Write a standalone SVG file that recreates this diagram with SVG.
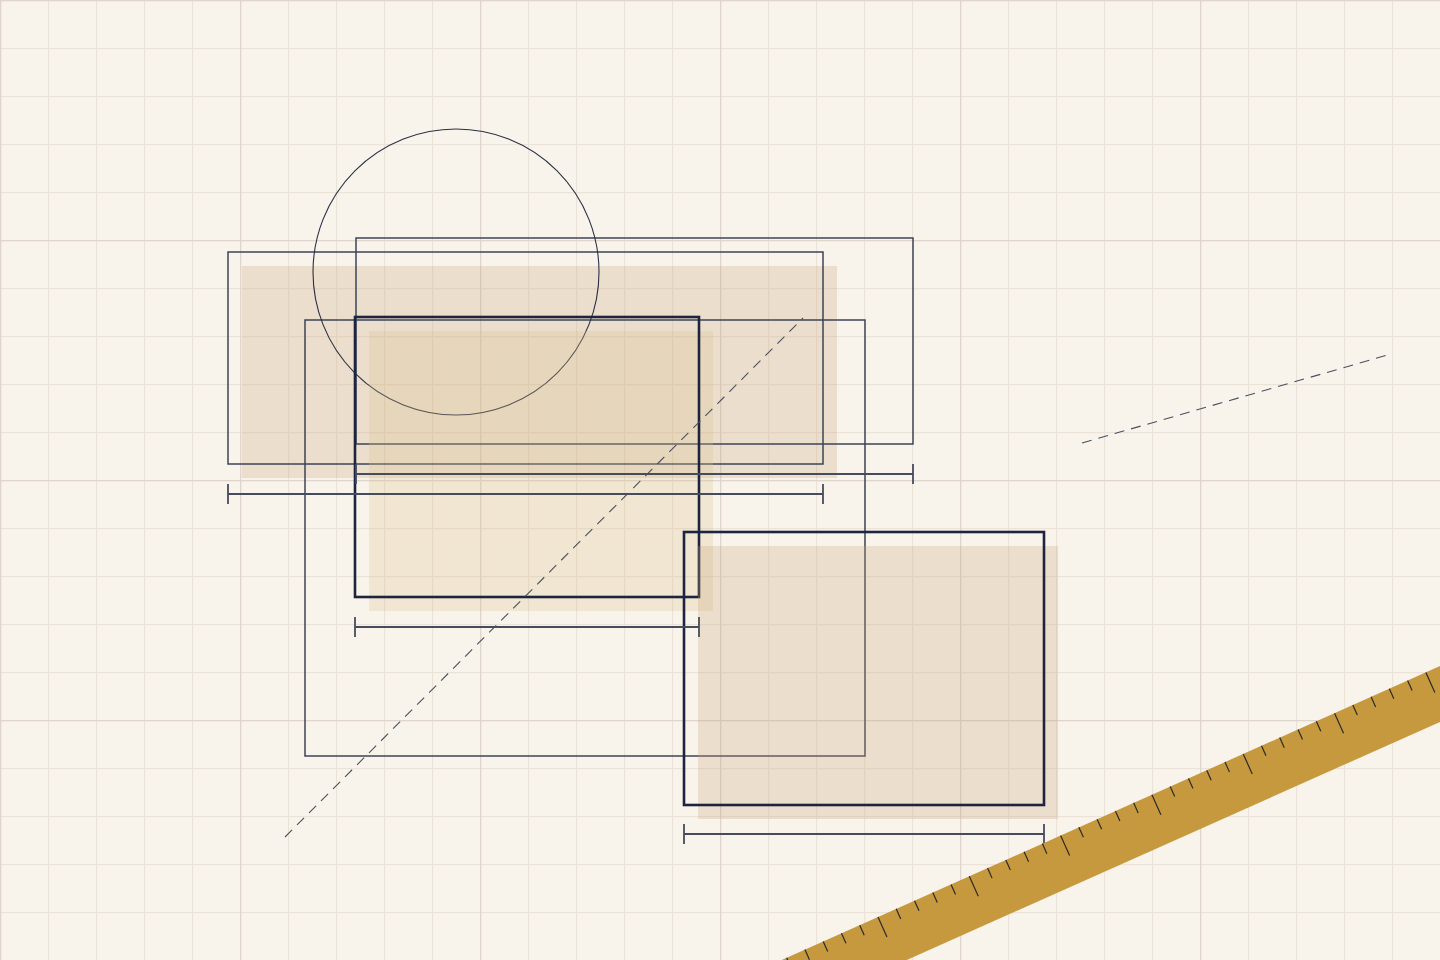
<svg xmlns="http://www.w3.org/2000/svg" width="1440" height="960" viewBox="0 0 1440 960">
  <defs>
    <pattern id="minor" width="48" height="48" patternUnits="userSpaceOnUse">
      <path d="M0.5 0V48M0 0.5H48" fill="none" stroke="#ebe2d8" stroke-width="1.3"/>
    </pattern>
    <pattern id="major" width="240" height="240" patternUnits="userSpaceOnUse">
      <path d="M0.5 0V240M0 0.5H240" fill="none" stroke="#e0d5cc" stroke-width="1.6"/>
    </pattern>
  </defs>
  <style>
    .thin { fill: none; stroke: #3d4457; stroke-width: 1.5; }
    .thick { fill: none; stroke: #1d2440; stroke-width: 2.6; }
    .shadow { fill: #c9a27a; opacity: 0.27; }
    .shadowy { fill: #d9c08e; opacity: 0.27; }
    .dim { fill: none; stroke: #474c5c; stroke-width: 1.8; }
    .dash { fill: none; stroke: #4a4f5e; stroke-width: 1.1; stroke-dasharray: 10 7; }
    .tick { stroke: #2b2a28; stroke-width: 1.2; }
  </style>
  <rect width="1440" height="960" fill="#f9f4eb"/>
  <rect width="1440" height="960" fill="url(#minor)"/>
  <rect width="1440" height="960" fill="url(#major)"/>

  <g id="rect-a">
    <rect class="shadow" x="242" y="266" width="595" height="212"/>
    <rect class="thin" x="228" y="252" width="595" height="212"/>
  </g>
  <g id="rect-b">
    <rect class="thin" x="356" y="238" width="557" height="206"/>
  </g>
  <g id="rect-c">
    <rect class="thin" x="305" y="320" width="560" height="436"/>
  </g>
  <g id="circle">
    <circle cx="456" cy="272" r="143" fill="none" stroke="#2a3045" stroke-width="1.1"/>
  </g>
  <g id="rect-d">
    <rect class="shadowy" x="369" y="331" width="344" height="280"/>
    <rect class="thick" x="355" y="317" width="344" height="280"/>
  </g>
  <g id="rect-e">
    <rect class="shadow" x="698" y="546" width="360" height="273"/>
    <rect class="thick" x="684" y="532" width="360" height="273"/>
  </g>

  <g id="dimensions">
    <path class="dim" d="M228 494H823M228 484V504M823 484V504"/>
    <path class="dim" d="M356 474H913M356 464V484M913 464V484"/>
    <path class="dim" d="M355 627H699M355 617V637M699 617V637"/>
    <path class="dim" d="M684 834H1044M684 824V844M1044 824V844"/>
  </g>

  <g id="guides">
    <line class="dash" x1="285" y1="837" x2="803" y2="318"/>
    <line class="dash" x1="1082" y1="443" x2="1391" y2="354"/>
  </g>

  <g id="ruler" transform="translate(878 917) rotate(-24.06)">
    <rect x="-260" y="0" width="960" height="51" fill="#c6993f"/>
    <g class="tick">
      <line x1="-200" y1="0" x2="-200" y2="22"/>
      <line x1="-180" y1="0" x2="-180" y2="11"/>
      <line x1="-160" y1="0" x2="-160" y2="11"/>
      <line x1="-140" y1="0" x2="-140" y2="11"/>
      <line x1="-120" y1="0" x2="-120" y2="11"/>
      <line x1="-100" y1="0" x2="-100" y2="22"/>
      <line x1="-80" y1="0" x2="-80" y2="11"/>
      <line x1="-60" y1="0" x2="-60" y2="11"/>
      <line x1="-40" y1="0" x2="-40" y2="11"/>
      <line x1="-20" y1="0" x2="-20" y2="11"/>
      <line x1="0" y1="0" x2="0" y2="22"/>
      <line x1="20" y1="0" x2="20" y2="11"/>
      <line x1="40" y1="0" x2="40" y2="11"/>
      <line x1="60" y1="0" x2="60" y2="11"/>
      <line x1="80" y1="0" x2="80" y2="11"/>
      <line x1="100" y1="0" x2="100" y2="22"/>
      <line x1="120" y1="0" x2="120" y2="11"/>
      <line x1="140" y1="0" x2="140" y2="11"/>
      <line x1="160" y1="0" x2="160" y2="11"/>
      <line x1="180" y1="0" x2="180" y2="11"/>
      <line x1="200" y1="0" x2="200" y2="22"/>
      <line x1="220" y1="0" x2="220" y2="11"/>
      <line x1="240" y1="0" x2="240" y2="11"/>
      <line x1="260" y1="0" x2="260" y2="11"/>
      <line x1="280" y1="0" x2="280" y2="11"/>
      <line x1="300" y1="0" x2="300" y2="22"/>
      <line x1="320" y1="0" x2="320" y2="11"/>
      <line x1="340" y1="0" x2="340" y2="11"/>
      <line x1="360" y1="0" x2="360" y2="11"/>
      <line x1="380" y1="0" x2="380" y2="11"/>
      <line x1="400" y1="0" x2="400" y2="22"/>
      <line x1="420" y1="0" x2="420" y2="11"/>
      <line x1="440" y1="0" x2="440" y2="11"/>
      <line x1="460" y1="0" x2="460" y2="11"/>
      <line x1="480" y1="0" x2="480" y2="11"/>
      <line x1="500" y1="0" x2="500" y2="22"/>
      <line x1="520" y1="0" x2="520" y2="11"/>
      <line x1="540" y1="0" x2="540" y2="11"/>
      <line x1="560" y1="0" x2="560" y2="11"/>
      <line x1="580" y1="0" x2="580" y2="11"/>
      <line x1="600" y1="0" x2="600" y2="22"/>
      <line x1="620" y1="0" x2="620" y2="11"/>
      <line x1="640" y1="0" x2="640" y2="11"/>
    </g>
  </g>
</svg>
